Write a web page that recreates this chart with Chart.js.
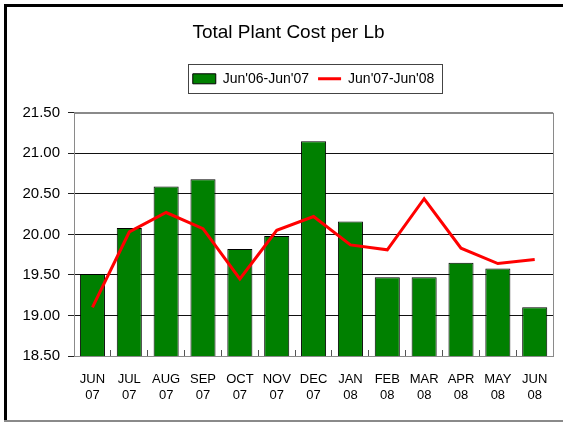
<!DOCTYPE html>
<html>
<head>
<meta charset="utf-8">
<script src="https://cdn.jsdelivr.net/npm/chart.js@4"></script>
<style>
  html, body { margin: 0; padding: 0; background: #fff; overflow: hidden; width: 563px; height: 424px; }
  .bar { position: absolute; }
  .top { left: 4px; top: 4px; width: 559px; height: 3px; background: #000; }
  .left { left: 4px; top: 4px; width: 3px; height: 416px; background: #000; }
  .bottom { left: 4px; top: 420px; width: 559px; height: 2px; background: #8a8a8a; }
  .clip { position: absolute; left: 7px; top: 7px; width: 556px; height: 413px; overflow: hidden; }
  canvas { display: block; }
</style>
</head>
<body>
<div class="clip"><canvas id="chart" width="563" height="413"></canvas></div>
<div class="bar top"></div><div class="bar left"></div><div class="bar bottom"></div>
<script>
// Total plant cost per lb, two fiscal years side by side.
const months = ['JUN', 'JUL', 'AUG', 'SEP', 'OCT', 'NOV', 'DEC', 'JAN', 'FEB', 'MAR', 'APR', 'MAY', 'JUN'];
const years = ['07', '07', '07', '07', '07', '07', '07', '08', '08', '08', '08', '08', '08'];
const cost0607 = [19.51, 20.08, 20.59, 20.68, 19.82, 19.98, 21.15, 20.16, 19.47, 19.47, 19.65, 19.58, 19.10];
const cost0708 = [19.10, 20.03, 20.27, 20.07, 19.45, 20.05, 20.22, 19.87, 19.81, 20.44, 19.83, 19.64, 19.69];
const yMin = 18.5, yMax = 21.5, yStep = 0.5;

const SANS = '"Liberation Sans", Arial, sans-serif';

Chart.defaults.color = '#000';
Chart.defaults.font.family = SANS;

// Gray frame round the plot area (top + right show, left/bottom are axis lines).
const plotFrame = {
  id: 'plotFrame',
  beforeDatasetsDraw(chart) {
    const { ctx, chartArea: a } = chart;
    ctx.save();
    ctx.strokeStyle = '#8a8a8a';
    ctx.lineWidth = 1;
    ctx.strokeRect(Math.round(a.left) + 0.5, Math.round(a.top) + 0.5,
      Math.round(a.right - a.left), Math.round(a.bottom - a.top));
    ctx.restore();
  },
};

// Extra room under the legend, and a box drawn round it.
const legendBox = {
  id: 'legendBox',
  beforeLayout(chart) {
    const lg = chart.legend;
    if (lg && !lg._gapPatched) {
      const fit = lg.fit;
      lg.fit = function () { fit.call(this); this.height += 17; };
      lg._gapPatched = true;
    }
  },
  afterDraw(chart) {
    const hb = chart.legend && chart.legend.legendHitBoxes;
    if (!hb || !hb.length) return;
    const left = Math.min(...hb.map((h) => h.left)) - 5;
    const right = Math.max(...hb.map((h) => h.left + h.width)) + 7;
    const mid = hb[0].top + hb[0].height / 2;
    const { ctx } = chart;
    ctx.save();
    ctx.strokeStyle = '#444';
    ctx.lineWidth = 1;
    ctx.strokeRect(Math.round(left) + 0.5, Math.round(mid - 14.5) + 0.5, Math.round(right - left), 29);
    ctx.restore();
  },
};

new Chart(document.getElementById('chart'), {
  data: {
    labels: months.map((m, i) => [m, years[i]]),
    datasets: [
      {
        type: 'bar', label: "Jun'06-Jun'07", data: cost0607, order: 1,
        backgroundColor: '#008000', borderColor: '#000', borderWidth: 1,
        barPercentage: 0.68, categoryPercentage: 1, pointStyle: 'rect',
      },
      {
        type: 'line', label: "Jun'07-Jun'08", data: cost0708, order: 0,
        borderColor: '#ff0000', backgroundColor: '#ff0000', borderWidth: 3,
        pointRadius: 0, tension: 0, pointStyle: 'line',
      },
    ],
  },
  options: {
    responsive: false,
    devicePixelRatio: 1,
    animation: false,
    layout: { padding: 0 },
    plugins: {
      title: {
        display: true, text: 'Total Plant Cost per Lb', color: '#000',
        font: { family: SANS, size: 19, weight: 'normal' },
        padding: { top: 14, bottom: 19 },
      },
      legend: {
        display: true, position: 'top', fullSize: false,
        labels: {
          usePointStyle: true, pointStyleWidth: 23, boxHeight: 10, padding: 9,
          color: '#000', font: { family: SANS, size: 14 },
          sort: (a, b) => a.datasetIndex - b.datasetIndex,
        },
      },
      tooltip: { enabled: false },
    },
    scales: {
      x: {
        offset: true,
        grid: { offset: true, drawOnChartArea: false, tickLength: -6, color: '#555' },
        border: { color: '#222', width: 1 },
        ticks: { color: '#000', padding: 22, maxRotation: 0, autoSkip: false,
          font: { family: SANS, size: 13, lineHeight: 1.2 } },
        afterFit: (s) => { s.height = 64; },
      },
      y: {
        min: yMin, max: yMax,
        grid: {
          color: (c) => (c.tick && c.tick.value === yMax ? '#8a8a8a' : '#111'),
          tickColor: '#222', tickLength: 6,
        },
        border: { color: '#8a8a8a', width: 1 },
        ticks: { stepSize: yStep, padding: 8, color: '#000', font: { family: SANS, size: 15 },
          callback: (v) => Number(v).toFixed(2) },
        afterFit: (s) => { s.width = 67; },
      },
      // empty right gutter so the plot stops short of the canvas edge
      gutter: {
        type: 'linear', position: 'right', min: yMin, max: yMax,
        grid: { display: false }, border: { display: false }, ticks: { display: false },
        afterFit: (s) => { s.width = 15; },
      },
    },
  },
  plugins: [plotFrame, legendBox],
});
</script>
</body>
</html>
